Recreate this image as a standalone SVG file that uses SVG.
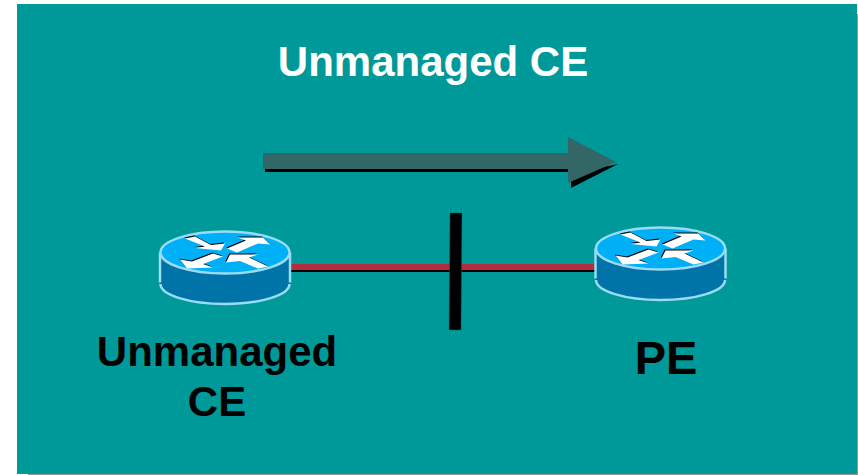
<svg xmlns="http://www.w3.org/2000/svg" width="858" height="475" viewBox="0 0 858 475">
  <style>
    .lbl { font-family: "Liberation Sans", Arial, sans-serif; font-weight: 700; text-anchor: middle; }
    .side { fill: #0073a8; }
    .top { fill: #00b0f6; stroke: #99dcf4; stroke-width: 2.500; }
    .rim { fill: none; stroke: #99dcf4; stroke-width: 2.500; }
    .ar { fill: #fff; }
    .sh { fill: #000; }
  </style>
  <defs>
    <g id="router">
      <path class="side" d="M-65,0 V31 A65,21 0 0 0 65,31 V0 Z"/>
      <path class="rim" d="M-65,0 V30 M65,0 V30"/>
      <path class="rim" d="M-64.500,31.500 A64.500,20 0 0 0 64.500,31.500"/>
      <ellipse class="top" cx="0" cy="0" rx="64.500" ry="21"/>
      <g class="sh" transform="translate(-0.800,-1)">
        <polygon points="-40,-14 -30,-16 -14,-7.500 0,-9 -4,-2 -30,-4.500 -20,-6"/>
        <polygon points="45,-8 38,-15 13,-15 21,-12 2,-4 12,0 33,-9"/>
        <polygon points="-45,7 -38,16 -12,15 -22,11.500 -2,4 -12,1 -33,9"/>
        <polygon points="43,14 33,16 15,8.500 1,10 5,2 33,2 24,5"/>
      </g>
      <polygon class="ar" points="-40,-14 -30,-16 -14,-7.500 0,-9 -4,-2 -30,-4.500 -20,-6"/>
      <polygon class="ar" points="45,-8 38,-15 13,-15 21,-12 2,-4 12,0 33,-9"/>
      <polygon class="ar" points="-45,7 -38,16 -12,15 -22,11.500 -2,4 -12,1 -33,9"/>
      <polygon class="ar" points="43,14 33,16 15,8.500 1,10 5,2 33,2 24,5"/>
    </g>
  </defs>

  <rect x="0" y="0" width="858" height="475" fill="#fff"/>
  <rect x="28" y="474" width="830" height="1" fill="#999"/>
  <rect x="857" y="14" width="1" height="461" fill="#999"/>
  <rect x="17" y="4" width="840" height="470" fill="#009999"/>

  <text id="title" class="lbl" x="433" y="76" font-size="42" fill="#fff">Unmanaged CE</text>

  <g id="flow-arrow">
    <polygon fill="#000" points="265,169 571,169 571,188 618,164 580,172 265,172"/>
    <polygon fill="#336666" points="263,153 568,153 568,137 616,162 568,183 568,169 263,169"/>
  </g>

  <g id="connectors">
    <rect x="290" y="270" width="306" height="2" fill="#000"/>
    <rect x="290" y="264" width="306" height="6" fill="#b32d3f"/>
  </g>

  <g id="boundary-bar">
    <polygon fill="#000" stroke="#006666" stroke-width="0.500" points="450,213 462,213 461,330 449,330"/>
  </g>

  <g id="unmanaged-ce">
    <use href="#router" transform="translate(225,252.500)"/>
    <text class="lbl" x="217" y="366" font-size="42" fill="#000">Unmanaged</text>
    <text class="lbl" x="217" y="416" font-size="42" fill="#000">CE</text>
  </g>

  <g id="pe">
    <use href="#router" transform="translate(660.500,248.500)"/>
    <text class="lbl" x="666" y="374" font-size="47" fill="#000">PE</text>
  </g>
</svg>
